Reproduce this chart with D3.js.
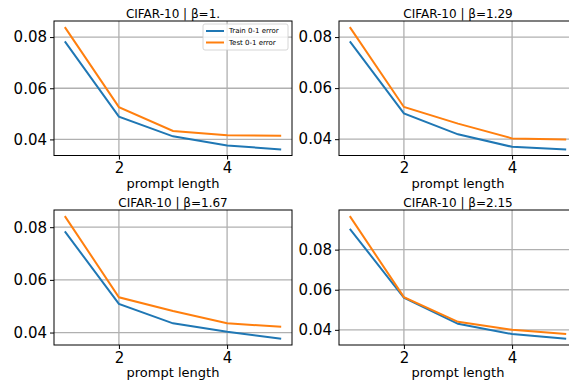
<!DOCTYPE html>
<html><head><meta charset="utf-8">
<script src="https://cdn.jsdelivr.net/npm/d3@7"></script>
<style>body{margin:0;background:#fff}svg{display:block;font-family:"DejaVu Sans",sans-serif}</style>
</head><body><svg id="c" width="569" height="383"></svg>
<script>
const promptLengths = [1, 2, 3, 4, 5];
const titles = ["CIFAR-10 | β=1.", "CIFAR-10 | β=1.29", "CIFAR-10 | β=1.67", "CIFAR-10 | β=2.15"];
const trainError = [
  [0.0783, 0.0489, 0.0412, 0.0376, 0.0361],
  [0.0783, 0.0501, 0.0419, 0.0370, 0.0360],
  [0.0784, 0.0509, 0.0435, 0.0403, 0.0376],
  [0.0904, 0.0560, 0.0430, 0.0379, 0.0355]
];
const testError = [
  [0.0839, 0.0526, 0.0433, 0.0416, 0.0414],
  [0.0839, 0.0526, 0.0461, 0.0403, 0.0399],
  [0.0842, 0.0534, 0.0482, 0.0435, 0.0422],
  [0.0967, 0.0563, 0.0440, 0.0400, 0.0379]
];
const yTicks = [0.04, 0.06, 0.08];
const xTicks = [2, 4];
const seriesNames = ["Train 0-1 error", "Test 0-1 error"];
const colors = ["#1f77b4", "#ff7f0e"];

const svg = d3.select("#c");
const panels = [
  {x0: 54, x1: 292, y0: 21, y1: 155.5},
  {x0: 339, x1: 577, y0: 21, y1: 155.5},
  {x0: 54, x1: 292, y0: 210, y1: 345},
  {x0: 339, x1: 577, y0: 210, y1: 345}
];
const grid = "#b0b0b0";

panels.forEach((p, i) => {
  const all = trainError[i].concat(testError[i]);
  const [mn, mx] = d3.extent(all);
  const pad = (mx - mn) * 0.05;
  const x = d3.scaleLinear().domain([0.8, 5.2]).range([p.x0, p.x1]);
  const y = d3.scaleLinear().domain([mn - pad, mx + pad]).range([p.y1, p.y0]);
  const g = svg.append("g");
  // grid
  g.selectAll(".gx").data(xTicks).enter().append("line")
    .attr("x1", d => x(d)).attr("x2", d => x(d)).attr("y1", p.y0).attr("y2", p.y1)
    .attr("stroke", grid).attr("stroke-width", 1.3);
  g.selectAll(".gy").data(yTicks).enter().append("line")
    .attr("x1", p.x0).attr("x2", p.x1).attr("y1", d => y(d)).attr("y2", d => y(d))
    .attr("stroke", grid).attr("stroke-width", 1.3);
  // lines
  const line = d3.line().x((d, j) => x(promptLengths[j])).y(d => y(d));
  [trainError[i], testError[i]].forEach((s, k) => {
    g.append("path").datum(s).attr("d", line).attr("fill", "none")
      .attr("stroke", colors[k]).attr("stroke-width", 2);
  });
  // axes
  const ax = g.append("g").attr("transform", `translate(0,${p.y1})`)
    .call(d3.axisBottom(x).tickValues(xTicks).tickFormat(d3.format("d")).tickSize(4).tickPadding(3));
  const ay = g.append("g").attr("transform", `translate(${p.x0},0)`)
    .call(d3.axisLeft(y).tickValues(yTicks).tickFormat(d3.format(".2f")).tickSize(4).tickPadding(3));
  [ax, ay].forEach(a => {
    a.select(".domain").remove();
    a.selectAll("line").attr("stroke", "#000").attr("stroke-width", 1);
    a.selectAll("text").attr("font-size", 15).attr("fill", "#000").attr("font-family", "DejaVu Sans");
  });
  ax.selectAll("text").attr("dy", "0.71em");
  // frame
  g.append("rect").attr("x", p.x0).attr("y", p.y0).attr("width", p.x1 - p.x0).attr("height", p.y1 - p.y0)
    .attr("fill", "none").attr("stroke", "#000").attr("stroke-width", 1);
  // title
  g.append("text").attr("x", (p.x0 + p.x1) / 2).attr("y", p.y0 - 3).attr("text-anchor", "middle")
    .attr("font-size", 12).text(titles[i]);
  g.append("text").attr("x", (p.x0 + p.x1) / 2).attr("y", p.y1 + 32).attr("text-anchor", "middle")
    .attr("font-size", 13).text("prompt length");

  if (i === 0) {
    const lg = g.append("g").attr("transform", `translate(${p.x1 - 89},${p.y0 + 3})`);
    lg.append("rect").attr("width", 85).attr("height", 26).attr("rx", 2)
      .attr("fill", "#fff").attr("fill-opacity", 0.8).attr("stroke", "#ccc").attr("stroke-width", 0.8);
    seriesNames.forEach((n, k) => {
      const yy = 7 + k * 11.5;
      lg.append("line").attr("x1", 3).attr("x2", 21).attr("y1", yy).attr("y2", yy)
        .attr("stroke", colors[k]).attr("stroke-width", 2);
      lg.append("text").attr("x", 26).attr("y", yy).attr("dy", "0.35em").attr("font-size", 7).text(n);
    });
  }
});
</script></body></html>
